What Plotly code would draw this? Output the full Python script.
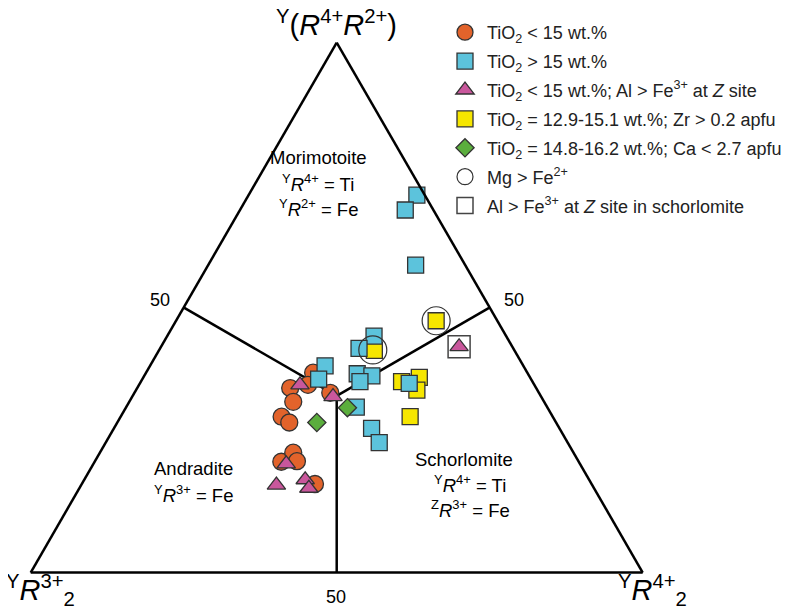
import plotly.graph_objects as go

# Ternary components (%): A = Y(R4+R2+) top, B = YR3+2 left, C = YR4+2 right
low_ti_a = [37.7, 34.8, 35.4, 32.2, 29.4, 28.3, 33.9, 20.9, 22.6, 21.0, 16.7]
low_ti_b = [35.0, 40.2, 37.0, 41.0, 44.3, 43.6, 34.1, 48.6, 45.8, 46.0, 45.2]
low_ti_c = [27.3, 25.0, 27.6, 26.8, 26.3, 28.1, 32.0, 30.5, 31.6, 33.0, 38.1]

high_ti_a = [71.2, 68.4, 58.0, 44.6, 42.3, 39.0, 36.5, 37.5, 37.1, 36.0, 31.2, 27.2, 24.5, 35.7]
high_ti_b = [1.3, 4.6, 8.1, 21.6, 25.2, 32.4, 34.7, 27.9, 25.7, 28.2, 31.2, 30.7, 30.8, 20.3]
high_ti_c = [27.5, 27.0, 33.9, 33.8, 32.5, 28.6, 28.8, 34.6, 37.2, 35.8, 37.6, 42.1, 44.7, 44.0]

al_a = [35.4, 33.2, 20.5, 16.5, 17.5, 15.9, 42.6]
al_b = [38.3, 34.0, 48.0, 51.6, 46.4, 46.6, 8.7]
al_c = [26.3, 32.8, 31.5, 31.9, 36.1, 37.5, 48.7]

zr_a = [47.5, 41.9, 36.0, 36.8, 34.4, 29.4]
zr_b = [10.0, 22.9, 21.4, 18.1, 19.7, 23.3]
zr_c = [42.5, 35.2, 42.6, 45.1, 45.9, 47.3]

ca_a = [28.3, 31.1]
ca_b = [39.1, 32.7]
ca_c = [32.6, 36.2]

mg_a = [47.5, 42.0]
mg_b = [10.0, 23.1]
mg_c = [42.5, 34.9]

alz_a = [42.6]
alz_b = [8.7]
alz_c = [48.7]

# field boundaries: centroid to the 50 % point of each side (with small outer tick)
bound_a = [51.0, 33.333, None, 33.333, 51.0, None, 33.333, -1.5]
bound_b = [51.0, 33.333, None, 33.333, -1.0, None, 33.333, 50.75]
bound_c = [-1.0, 33.333, None, 33.333, 51.0, None, 33.333, 50.75]

names = [
    "TiO<sub>2</sub> &lt; 15 wt.%",
    "TiO<sub>2</sub> &gt; 15 wt.%",
    "TiO<sub>2</sub> &lt; 15 wt.%; Al &gt; Fe<sup>3+</sup> at <i>Z</i> site",
    "TiO<sub>2</sub> = 12.9-15.1 wt.%; Zr &gt; 0.2 apfu",
    "TiO<sub>2</sub> = 14.8-16.2 wt.%; Ca &lt; 2.7 apfu",
    "Mg &gt; Fe<sup>2+</sup>",
    "Al &gt; Fe<sup>3+</sup> at <i>Z</i> site in schorlomite",
]

FONT = "Liberation Sans, Arial, sans-serif"
EDGE = "#333333"
ORANGE = "#E2632B"
BLUE = "#5CC3DC"
PINK = "#C9579C"
YELLOW = "#F6E600"
GREEN = "#5BAE3D"

fig = go.Figure()

fig.add_trace(go.Scatterternary(a=bound_a, b=bound_b, c=bound_c, mode="lines",
                                line=dict(color="black", width=2.5), showlegend=False,
                                cliponaxis=False, hoverinfo="skip"))

def pts(a, b, c, name, symbol, color, size, rank, lw=1.3, lcol=EDGE):
    fig.add_trace(go.Scatterternary(
        a=a, b=b, c=c, mode="markers", name=name, legendrank=rank,
        legendgroup="g%d" % rank, cliponaxis=False,
        marker=dict(symbol=symbol, size=size, color=color,
                    line=dict(color=lcol, width=lw))))

pts(low_ti_a, low_ti_b, low_ti_c, names[0], "circle", ORANGE, 17, 1)
pts(zr_a, zr_b, zr_c, names[3], "square", YELLOW, 16, 4)
pts(high_ti_a, high_ti_b, high_ti_c, names[1], "square", BLUE, 16, 2)
pts(alz_a, alz_b, alz_c, names[6], "square-open", "#444444", 22, 7, lw=1.5, lcol="#444444")
pts(al_a, al_b, al_c, names[2], "triangle-up", PINK, 16, 3)
pts(ca_a, ca_b, ca_c, names[4], "diamond", GREEN, 14, 5)
pts(mg_a, mg_b, mg_c, names[5], "circle-open", "#333333", 28, 6, lw=1.2, lcol="#333333")

axis = dict(showticklabels=False, ticks="", showgrid=False, linecolor="black",
            linewidth=2.5, title=dict(text=""))

PAD = 8            # page body margin around the figure
W, H = 811 - PAD, 611 - PAD
left_x, right_x, base_y, apex_y = 30.7, 642.7, 572.5, 42.5   # screen pixels

ann = []
def label(x, y, text, size=18):
    ann.append(dict(x=(x - PAD) / W, y=1 - (y - PAD) / H, xref="paper", yref="paper",
                    text=text, showarrow=False,
                    font=dict(family=FONT, size=size, color="black"),
                    xanchor="center", yanchor="middle"))

R = "<i>R</i>"
label(336, 23, "<sup>Y</sup>(" + R + "<sup>4+</sup>" + R + "<sup>2+</sup>)", 29)
label(40, 590, "<sup>Y</sup>" + R + "<sup>3+</sup><sub>2</sub>", 29)
label(652, 590, "<sup>Y</sup>" + R + "<sup>4+</sup><sub>2</sub>", 29)
label(160, 300, "50")
label(514, 300, "50")
label(336, 597, "50")
label(318, 157, "Morimotoite", 18.5)
label(318, 183, "<sup>Y</sup>" + R + "<sup>4+</sup> = Ti", 18.5)
label(318, 208, "<sup>Y</sup>" + R + "<sup>2+</sup> = Fe", 18.5)
label(193, 468, "Andradite", 18.5)
label(193, 494, "<sup>Y</sup>" + R + "<sup>3+</sup> = Fe", 18.5)
label(464, 459, "Schorlomite", 18.5)
label(470, 484, "<sup>Y</sup>" + R + "<sup>4+</sup> = Ti", 18.5)
label(470, 509, "<sup>Z</sup>" + R + "<sup>3+</sup> = Fe", 18.5)

fig.update_layout(
    width=W, height=H,
    margin=dict(l=0, r=0, t=0, b=0),
    paper_bgcolor="white",
    font=dict(family=FONT, color="black"),
    ternary=dict(
        sum=100,
        bgcolor="white",
        domain=dict(x=[(left_x - PAD) / W, (right_x - PAD) / W],
                    y=[(H - (base_y - PAD)) / H, (H - (apex_y - PAD)) / H]),
        aaxis=axis, baxis=axis, caxis=axis,
    ),
    legend=dict(x=(443 - PAD) / W, y=1 - 6 / H, xanchor="left", yanchor="top",
                font=dict(family=FONT, size=18, color="#222222"),
                bgcolor="rgba(0,0,0,0)", itemsizing="trace", tracegroupgap=2.5,
                itemwidth=34),
    annotations=ann,
    showlegend=True,
)

fig.write_html("out.html")
